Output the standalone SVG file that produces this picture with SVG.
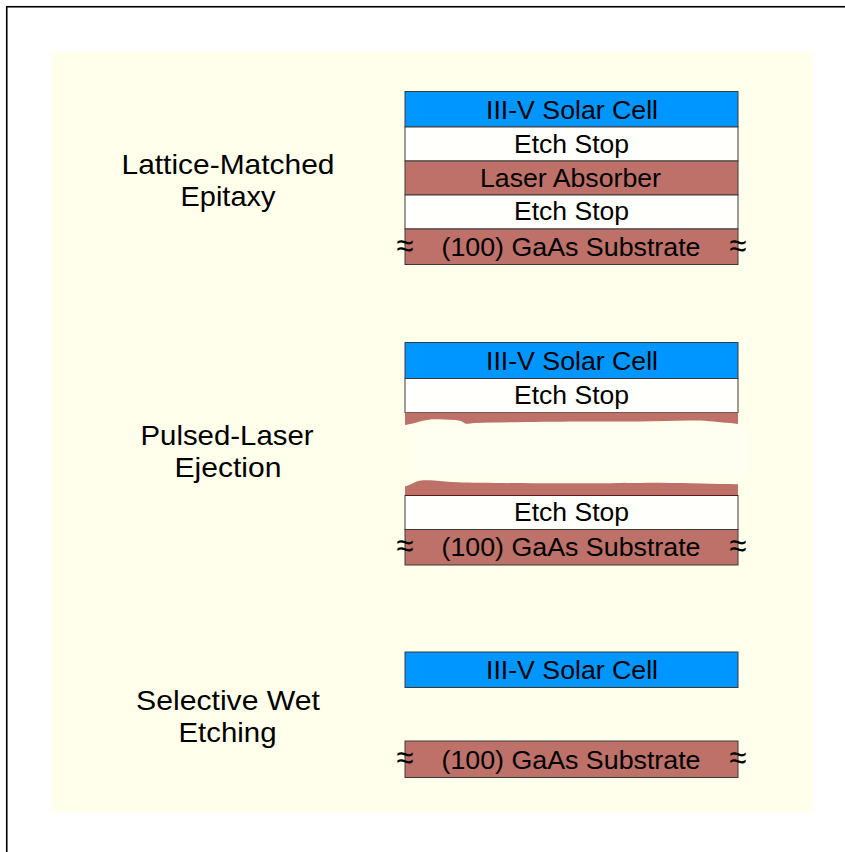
<svg xmlns="http://www.w3.org/2000/svg" width="845" height="852" viewBox="0 0 845 852">
<style>
.lay{stroke:#3a3a3a;stroke-width:1}
.blue{fill:#0096FF}
.red{fill:#BD7169}
.wht{fill:#FFFFFC}
.t{font-family:"Liberation Sans",Arial,sans-serif;font-size:26.5px;fill:#000;text-anchor:middle}
.lbl{font-family:"Liberation Sans",Arial,sans-serif;font-size:28px;fill:#000;text-anchor:middle}
.ap{font-family:"Liberation Sans",Arial,sans-serif;font-size:34px;fill:#000;text-anchor:middle}
</style>
<rect x="0" y="0" width="845" height="852" fill="#FFFFFF"/>
<rect x="6.75" y="6.75" width="900" height="900" fill="#FFFFFF" stroke="#000" stroke-width="1.6"/>
<rect x="52" y="52" width="760" height="760" fill="#FFFFEB"/>

<g id="labels">
<text class="lbl" x="228" y="173.5" textLength="213" lengthAdjust="spacingAndGlyphs">Lattice-Matched</text>
<text class="lbl" x="228" y="205.5" textLength="95" lengthAdjust="spacingAndGlyphs">Epitaxy</text>
<text class="lbl" x="227" y="445" textLength="173" lengthAdjust="spacingAndGlyphs">Pulsed-Laser</text>
<text class="lbl" x="228" y="477" textLength="107" lengthAdjust="spacingAndGlyphs">Ejection</text>
<text class="lbl" x="228" y="710" textLength="184" lengthAdjust="spacingAndGlyphs">Selective Wet</text>
<text class="lbl" x="227.5" y="742" textLength="98" lengthAdjust="spacingAndGlyphs">Etching</text>
</g>

<g id="stack1">
<rect class="lay blue" x="405" y="91.5" width="333" height="35.5"/>
<rect class="lay wht" x="405" y="127" width="333" height="34"/>
<rect class="lay red" x="405" y="161" width="333" height="34"/>
<rect class="lay wht" x="405" y="195" width="333" height="34"/>
<rect class="lay red" x="405" y="229" width="333" height="35.5"/>
<text class="t" x="572" y="119" textLength="172" lengthAdjust="spacingAndGlyphs">III-V Solar Cell</text>
<text class="t" x="571.5" y="152.5" textLength="115" lengthAdjust="spacingAndGlyphs">Etch Stop</text>
<text class="t" x="570.5" y="187" textLength="181" lengthAdjust="spacingAndGlyphs">Laser Absorber</text>
<text class="t" x="571.5" y="220" textLength="115" lengthAdjust="spacingAndGlyphs">Etch Stop</text>
<text class="t" x="571" y="255.5" textLength="259" lengthAdjust="spacingAndGlyphs">(100) GaAs Substrate</text>
<text class="ap" x="405" y="256.5" textLength="17" lengthAdjust="spacingAndGlyphs">≈</text>
<text class="ap" x="738" y="256.5" textLength="17" lengthAdjust="spacingAndGlyphs">≈</text>
</g>

<g id="stack2">
<rect class="lay blue" x="405" y="342.5" width="333" height="36"/>
<rect class="lay wht" x="405" y="378.5" width="333" height="34"/>
<path class="red" d="M405,412.5 H738 V424 C730,423 724,422.5 718,422 C705,420.5 695,420.5 688,420.5 C660,421.5 620,421.5 580,421.5 C540,421.8 500,422.3 475,423 C470,423.5 467,424 465,423.5 C462,421 460,420.5 455,420 C445,419.5 437,419 432,419.3 C425,420 420,421.5 415,423 C410,424 407,424.8 405,425 Z"/>
<rect x="412" y="427" width="338" height="50" fill="#FFFFFF" opacity="0.3"/>
<path class="red" d="M405,495.5 V486.5 C410,485 414,482.5 418,481 C421,480 425,480 430,480.3 C440,481 450,482 458,482.3 C480,483 520,483.3 560,483.3 C600,483.3 640,482.8 660,482.7 C690,483 715,483.8 738,484.2 V495.5 Z"/>
<rect class="lay wht" x="405" y="495.5" width="333" height="34"/>
<line x1="405" y1="495.5" x2="738" y2="495.5" stroke="#5a1a14" stroke-width="1.2"/>
<rect class="lay red" x="405" y="529.5" width="333" height="35.5"/>
<text class="t" x="572" y="370" textLength="172" lengthAdjust="spacingAndGlyphs">III-V Solar Cell</text>
<text class="t" x="571.5" y="404" textLength="115" lengthAdjust="spacingAndGlyphs">Etch Stop</text>
<text class="t" x="571.5" y="521" textLength="115" lengthAdjust="spacingAndGlyphs">Etch Stop</text>
<text class="t" x="571" y="556" textLength="259" lengthAdjust="spacingAndGlyphs">(100) GaAs Substrate</text>
<text class="ap" x="405" y="557" textLength="17" lengthAdjust="spacingAndGlyphs">≈</text>
<text class="ap" x="738" y="557" textLength="17" lengthAdjust="spacingAndGlyphs">≈</text>
</g>

<g id="stack3">
<rect class="lay blue" x="405" y="652" width="333" height="35.5"/>
<rect class="lay red" x="405" y="741" width="333" height="36.5"/>
<text class="t" x="572" y="678.5" textLength="172" lengthAdjust="spacingAndGlyphs">III-V Solar Cell</text>
<text class="t" x="571" y="768.5" textLength="259" lengthAdjust="spacingAndGlyphs">(100) GaAs Substrate</text>
<text class="ap" x="405" y="769" textLength="17" lengthAdjust="spacingAndGlyphs">≈</text>
<text class="ap" x="738" y="769" textLength="17" lengthAdjust="spacingAndGlyphs">≈</text>
</g>
</svg>
